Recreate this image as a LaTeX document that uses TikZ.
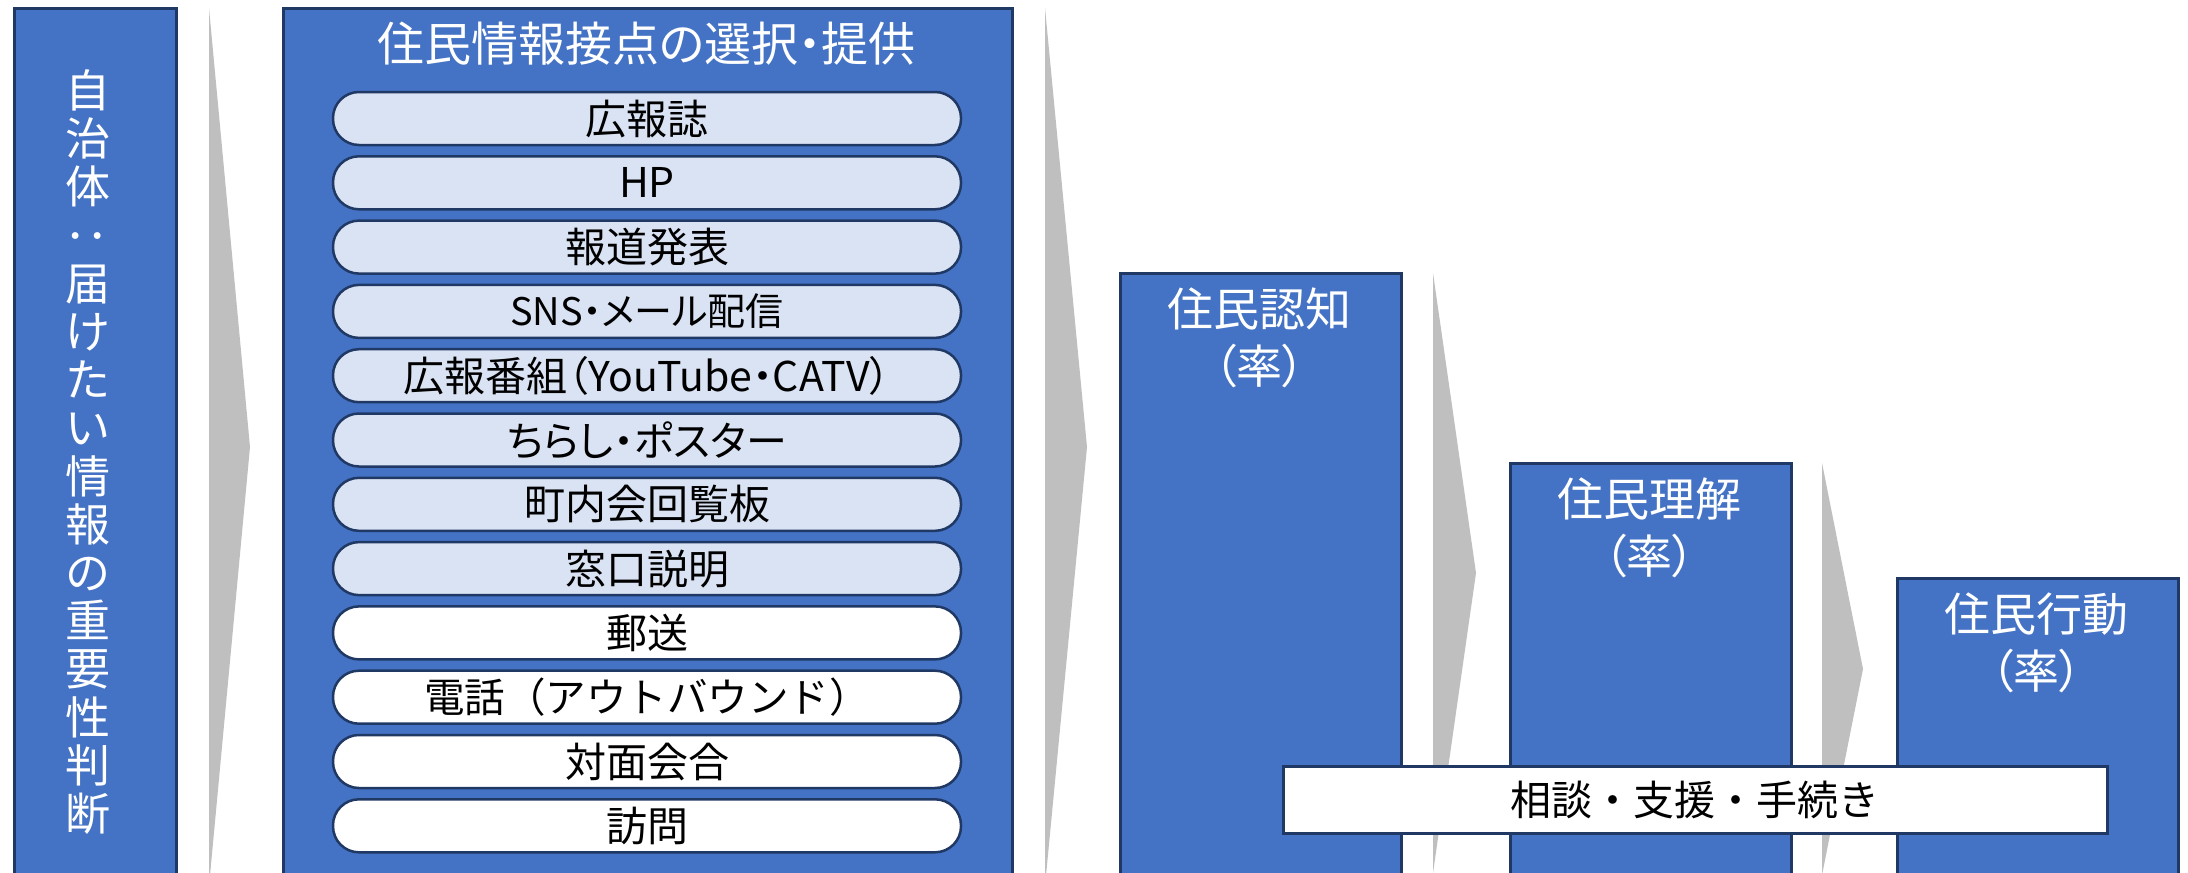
\documentclass[tikz,border=0pt]{standalone}
\usepackage{fontspec}
\setmainfont{Noto Sans CJK JP}[RawFeature=+palt]
\newfontfamily\fullw{Noto Sans CJK JP}
\definecolor{obl}{HTML}{4472C4}
\definecolor{odk}{HTML}{203864}
\definecolor{olt}{HTML}{DAE3F3}
\definecolor{ogr}{HTML}{BFBFBF}
\tikzset{
  bigbox/.style={draw=odk, fill=obl, line width=3pt, rectangle, anchor=north west, inner sep=0pt},
  pill/.style={draw=odk, line width=2.5pt, rectangle, rounded corners=26pt, minimum width=628pt, minimum height=53pt, inner sep=0pt, font=\fontsize{41}{44}\selectfont, text=black},
  lpill/.style={pill, fill=olt},
  wpill/.style={pill, fill=white},
  wtxt/.style={text=white, align=center, inner sep=0pt},
  chev/.style={fill=ogr, draw=none},
}
\begin{document}
\begin{tikzpicture}[x=1pt,y=-1pt]
\useasboundingbox (0,0) rectangle (2188,873);
\clip (0,0) rectangle (2188,873);
\fill[white] (0,0) rectangle (2188,873);
% chevrons
\fill[chev] (209,8) -- (250,447) -- (209,886) -- cycle;
\fill[chev] (1045,8) -- (1087,447) -- (1045,886) -- cycle;
\fill[chev] (1433,273) -- (1476,573) -- (1433,873) -- cycle;
\fill[chev] (1822,463) -- (1863,669) -- (1822,875) -- cycle;
% left box
\node[bigbox, minimum width=162pt, minimum height=900pt] (gov) at (13,7) {};
\node[wtxt, font=\fontsize{45}{48.2}\selectfont] (govtext) at (88,452) {自\\治\\体\\{\fullw\rotatebox[origin=c]{90}{：}}\\届\\け\\た\\い\\情\\報\\の\\重\\要\\性\\判\\断};
% middle box
\node[bigbox, minimum width=729pt, minimum height=900pt] (mid) at (282,7) {};
\node[wtxt, font=\fontsize{47}{50}\selectfont] (midtitle) at (646.5,44) {住民情報接点の選択・提供};
\node[lpill] (p1) at (647,118.5) {広報誌};
\node[lpill] (p2) at (647,182.8) {HP};
\node[lpill] (p3) at (647,247.1) {報道発表};
\node[lpill, font=\fontsize{38}{44}\selectfont] (p4) at (647,311.4) {SNS・メール配信};
\node[lpill] (p5) at (647,375.7) {広報番組（YouTube・CATV）};
\node[lpill] (p6) at (647,440.0) {ちらし・ポスター};
\node[lpill] (p7) at (647,504.3) {町内会回覧板};
\node[lpill] (p8) at (647,568.6) {窓口説明};
\node[wpill] (p9) at (647,632.9) {郵送};
\node[wpill, font=\fullw\fontsize{40.5}{44}\selectfont] (p10) at (647,697.2) {電話（アウトバウンド）};
\node[wpill] (p11) at (647,761.5) {対面会合};
\node[wpill] (p12) at (647,825.8) {訪問};
% stage boxes
\node[bigbox, minimum width=281pt, minimum height=700pt] (aware) at (1119,272) {};
\node[wtxt, font=\fontsize{46}{57}\selectfont] (awaretext) at (1259.5,338) {住民認知\\（率）};
\node[bigbox, minimum width=281pt, minimum height=500pt] (under) at (1509,462) {};
\node[wtxt, font=\fontsize{46}{57}\selectfont] (undertext) at (1649.5,528) {住民理解\\（率）};
\node[bigbox, minimum width=281pt, minimum height=400pt] (act) at (1896,577) {};
\node[wtxt, font=\fontsize{46}{57}\selectfont] (acttext) at (2036.5,643) {住民行動\\（率）};
% support bar
\node[draw=odk, fill=white, line width=3pt, minimum width=824pt, minimum height=67pt, inner sep=0pt, font=\fullw\fontsize{41}{46}\selectfont] (support) at (1695,799.5) {相談・支援・手続き};
\end{tikzpicture}
\end{document}
